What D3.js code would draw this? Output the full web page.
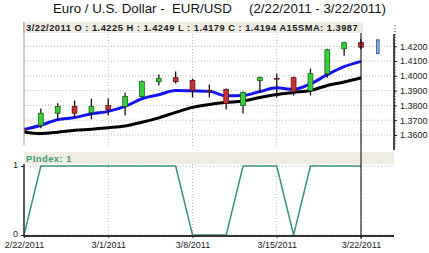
<!DOCTYPE html>
<html lang="en">
<head>
  <meta charset="UTF-8">
  <title>Euro / U.S. Dollar - EUR/USD</title>
  <script src="https://d3js.org/d3.v7.min.js"></script>
  <style>
    body {
      margin: 0;
      background: #fff;
      font-family: "Liberation Sans", Arial, sans-serif;
    }
    svg { display: block; }
    .grid line {
      stroke: #b8b8b8;
      stroke-dasharray: 1,2;
    }
  </style>
</head>
<body>
<svg width="429" height="253"></svg>
<script>
  // Trading days shown
  const dates = ["2/22/2011", "2/23/2011", "2/24/2011", "2/25/2011", "2/28/2011",
                 "3/1/2011", "3/2/2011", "3/3/2011", "3/4/2011", "3/7/2011",
                 "3/8/2011", "3/9/2011", "3/10/2011", "3/11/2011", "3/14/2011",
                 "3/15/2011", "3/16/2011", "3/17/2011", "3/18/2011", "3/21/2011",
                 "3/22/2011"];
  const xTickLabels = ["2/22/2011", "3/1/2011", "3/8/2011", "3/15/2011", "3/22/2011"];

  // OHLC
  const open  = [1.3640, 1.3666, 1.3747, 1.3793, 1.3753, 1.3800, 1.3793, 1.3861, 1.3961, 1.3988, 1.3968,
                 1.3901, 1.3908, 1.3800, 1.3968, 1.3983, 1.3988, 1.3901, 1.4015, 1.4183, 1.4225];
  const high  = [1.3650, 1.3780, 1.3814, 1.3834, 1.3847, 1.3847, 1.3888, 1.3968, 1.4009, 1.4029, 1.3982,
                 1.3941, 1.3914, 1.3894, 1.3995, 1.4015, 1.3995, 1.4049, 1.4183, 1.4230, 1.4249];
  const low   = [1.3620, 1.3646, 1.3699, 1.3713, 1.3706, 1.3733, 1.3733, 1.3854, 1.3935, 1.3948, 1.3854,
                 1.3854, 1.3773, 1.3746, 1.3888, 1.3854, 1.3867, 1.3867, 1.3988, 1.4136, 1.4179];
  const close = [1.3632, 1.3747, 1.3793, 1.3747, 1.3793, 1.3773, 1.3861, 1.3961, 1.3982, 1.3961, 1.3901,
                 1.3899, 1.3814, 1.3888, 1.3988, 1.3981, 1.3894, 1.4015, 1.4176, 1.4224, 1.4194];

  // next-bar projection (blue)
  const projHigh = 1.4244;
  const projLow = 1.4150;

  // Moving averages
  const smaFast = [1.3637, 1.3666, 1.3704, 1.3718, 1.3744, 1.3760, 1.3793, 1.3845, 1.3872, 1.3901, 1.3899,
                   1.3896, 1.3865, 1.3867, 1.3894, 1.3919, 1.3908, 1.3946, 1.4008, 1.4062, 1.4098];
  const sma15   = [1.3621, 1.3610, 1.3619, 1.3632, 1.3639, 1.3649, 1.3661, 1.3686, 1.3716, 1.3753, 1.3787,
                   1.3807, 1.3820, 1.3830, 1.3854, 1.3874, 1.3888, 1.3901, 1.3935, 1.3958, 1.3987];

  // Indicator panel
  const pIndex = [0, 1, 1, 1, 1, 1, 1, 1, 1, 1, 0, 0, 0, 1, 1, 1, 0, 1, 1, 1, 1];

  const priceTicks = [1.36, 1.37, 1.38, 1.39, 1.40, 1.41, 1.42];

  const svg = d3.select("svg");
  const left = 24, right = 394;
  const top1 = 22, bottom1 = 148;
  const top2 = 152, bottom2 = 236;

  const x = d3.scaleLinear().domain([0, 22]).range([left, right + 0.7]);
  const y = d3.scaleLinear().domain([1.36, 1.42]).range([135, 46.3]);
  const y2 = d3.scaleLinear().domain([0, 1]).range([235, 166]);

  const last = dates.length - 1;
  const tickIdx = xTickLabels.map(d => dates.indexOf(d));

  // Title
  svg.append("text").attr("x", 53).attr("y", 13)
    .style("font-size", "13.3px").style("white-space", "pre").attr("fill", "#111")
    .text("Euro / U.S. Dollar -  EUR/USD");
  svg.append("text").attr("x", 249).attr("y", 13)
    .style("font-size", "13.3px").attr("fill", "#111")
    .text("(" + dates[0] + " - " + dates[last] + ")");

  svg.append("defs").append("clipPath").attr("id", "clip1")
    .append("rect").attr("x", left).attr("y", top1).attr("width", right - left).attr("height", bottom1 - top1);

  // Grid - top panel
  const grid1 = svg.append("g").attr("class", "grid");
  grid1.selectAll("line.h").data(priceTicks).join("line").attr("class", "h")
    .attr("x1", left).attr("x2", right).attr("y1", d => y(d)).attr("y2", d => y(d));
  grid1.selectAll("line.v").data(tickIdx.slice(1)).join("line").attr("class", "v")
    .attr("x1", d => x(d)).attr("x2", d => x(d)).attr("y1", top1).attr("y2", bottom1);

  // Grid - bottom panel
  const grid2 = svg.append("g").attr("class", "grid");
  grid2.selectAll("line.h").data([0, 1]).join("line").attr("class", "h")
    .attr("x1", left).attr("x2", right).attr("y1", d => y2(d)).attr("y2", d => y2(d));
  grid2.selectAll("line.v").data(tickIdx.slice(1)).join("line").attr("class", "v")
    .attr("x1", d => x(d)).attr("x2", d => x(d)).attr("y1", top2).attr("y2", bottom2);

  // Moving averages
  const plot = svg.append("g").attr("clip-path", "url(#clip1)");
  const line = d3.line().x((d, i) => x(i)).y(d => y(d)).curve(d3.curveMonotoneX);
  plot.append("path").datum(sma15).attr("d", line)
    .attr("fill", "none").attr("stroke", "#000").attr("stroke-width", 3);
  plot.append("path").datum(smaFast).attr("d", line)
    .attr("fill", "none").attr("stroke", "#1414f0").attr("stroke-width", 3);

  // Candles
  const candles = plot.selectAll("g.candle").data(dates).join("g").attr("class", "candle");
  candles.append("line")
    .attr("x1", (d, i) => x(i)).attr("x2", (d, i) => x(i))
    .attr("y1", (d, i) => y(high[i])).attr("y2", (d, i) => y(low[i]))
    .attr("stroke", "#111").attr("stroke-width", 1.3);
  candles.append("rect")
    .attr("x", (d, i) => x(i) - 2.4).attr("width", 4.8)
    .attr("y", (d, i) => y(Math.max(open[i], close[i])))
    .attr("height", (d, i) => Math.max(0.8, Math.abs(y(open[i]) - y(close[i]))))
    .attr("fill", (d, i) => close[i] >= open[i] ? "#35d035" : "#c83232")
    .attr("stroke", (d, i) => close[i] >= open[i] ? "#1e5e1e" : "#5a1414")
    .attr("stroke-width", 0.8);

  // projection bar
  plot.append("rect")
    .attr("x", x(last + 1) - 1.3).attr("width", 2.6)
    .attr("y", y(projHigh)).attr("height", y(projLow) - y(projHigh))
    .attr("fill", "#8fb0e8").attr("stroke", "#2c4c9c").attr("stroke-width", 0.8);

  // Left edge of top panel
  svg.append("line").attr("x1", left).attr("x2", left).attr("y1", top1).attr("y2", bottom1 - 3)
    .attr("stroke", "#9a9a9a").attr("stroke-width", 1);

  // Right price axis
  const yAxis = d3.axisRight(y).tickValues(priceTicks).tickFormat(d3.format(".4f")).tickSize(3).tickPadding(3);
  const ya = svg.append("g").attr("transform", `translate(${right},0)`).call(yAxis);
  ya.select(".domain").remove();
  ya.selectAll("text").style("font-size", "9px").attr("fill", "#222");
  ya.selectAll("line").attr("stroke", "#222");
  const minor = d3.range(1.352, 1.4341, 0.002);
  ya.selectAll("line.minor").data(minor).join("line").attr("class", "minor")
    .attr("x1", 0).attr("x2", 2).attr("y1", d => y(d)).attr("y2", d => y(d))
    .attr("stroke", "#444").attr("stroke-width", 0.6);
  svg.append("line").attr("x1", right).attr("x2", right).attr("y1", 34).attr("y2", 150)
    .attr("stroke", "#111").attr("stroke-width", 1.5);

  // Legend band - top
  svg.append("rect").attr("x", left).attr("y", top1).attr("width", 339).attr("height", 11)
    .attr("fill", "#efece4");
  svg.append("line").attr("x1", left).attr("x2", left).attr("y1", top1).attr("y2", top1 + 11)
    .attr("stroke", "#9a9a9a");
  svg.append("text").attr("x", 26).attr("y", 31.3)
    .style("font-size", "9.3px").style("font-weight", "bold").style("letter-spacing", "0.5px")
    .attr("fill", "#1a1a1a")
    .text(`${dates[last]} O : ${open[last].toFixed(4)} H : ${high[last].toFixed(4)} L : ${low[last].toFixed(4)} C : ${close[last].toFixed(4)} A15SMA: ${sma15[last].toFixed(4)}`);

  // Bottom panel
  svg.append("rect").attr("x", left).attr("y", top2).attr("width", right - left).attr("height", 12)
    .attr("fill", "#efece4");
  svg.append("text").attr("x", 26).attr("y", 161.5)
    .style("font-size", "9.3px").style("font-weight", "bold").style("letter-spacing", "0.5px")
    .attr("fill", "#3a9a70")
    .text("PIndex: " + pIndex[last]);

  svg.append("path").datum(pIndex)
    .attr("d", d3.line().x((d, i) => x(i)).y(d => y2(d)))
    .attr("fill", "none").attr("stroke", "#3a9470").attr("stroke-width", 1.5);

  // Left axis of bottom panel
  const y2Axis = d3.axisLeft(y2).tickValues([0, 1]).tickFormat(d3.format("d")).tickSize(3).tickPadding(3);
  const y2a = svg.append("g").attr("transform", `translate(${left},0)`).call(y2Axis);
  y2a.select(".domain").remove();
  y2a.selectAll("text").style("font-size", "9px").attr("fill", "#222").attr("dy", "0.2em");
  y2a.selectAll("line").attr("stroke", "#222");
  svg.append("line").attr("x1", left).attr("x2", left).attr("y1", 164).attr("y2", bottom2 + 1)
    .attr("stroke", "#333").attr("stroke-width", 1.6);

  // Bottom date axis
  const xAxis = d3.axisBottom(x).tickValues(tickIdx).tickFormat((d, i) => xTickLabels[i])
    .tickSize(2).tickPadding(4);
  const xa = svg.append("g").attr("transform", `translate(0,${bottom2})`).call(xAxis);
  xa.select(".domain").remove();
  xa.selectAll("text").style("font-size", "9px").attr("fill", "#222");
  xa.selectAll("line").attr("stroke", "#222");
  svg.append("line").attr("x1", left).attr("x2", right).attr("y1", bottom2).attr("y2", bottom2)
    .attr("stroke", "#333").attr("stroke-width", 2);

  // Cursor line at last bar
  svg.append("line").attr("x1", x(last)).attr("x2", x(last)).attr("y1", top1 + 11).attr("y2", bottom2 + 3)
    .attr("stroke", "#000").attr("stroke-width", 1);
</script>
</body>
</html>
